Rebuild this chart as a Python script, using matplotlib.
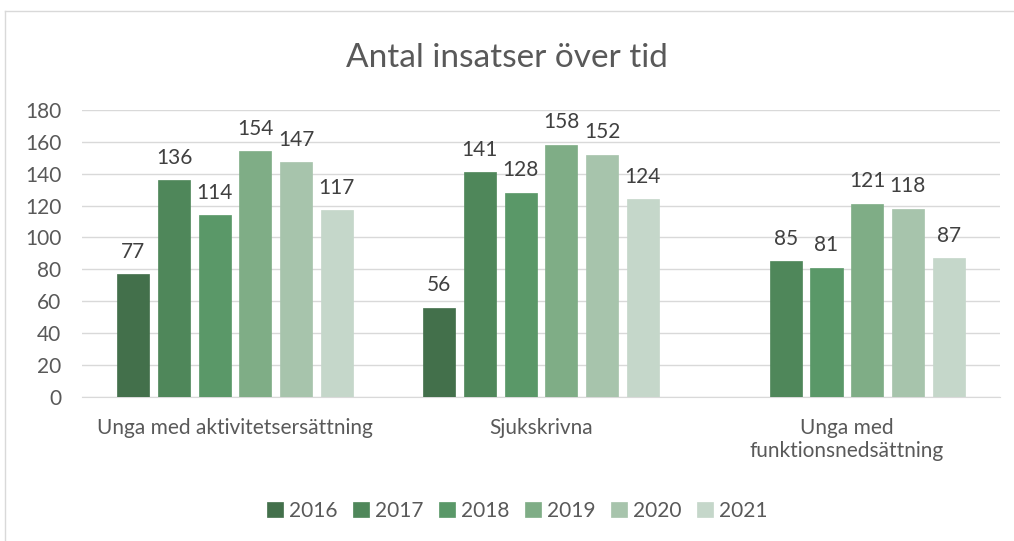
import numpy as np
import matplotlib.pyplot as plt
from matplotlib.lines import Line2D

# Data
categories = ["Unga med aktivitetsersättning", "Sjukskrivna", "Unga med\nfunktionsnedsättning"]
years = ["2016", "2017", "2018", "2019", "2020", "2021"]
values = {
    "2016": [77, 56, np.nan],
    "2017": [136, 141, 85],
    "2018": [114, 128, 81],
    "2019": [154, 158, 121],
    "2020": [147, 152, 118],
    "2021": [117, 124, 87],
}
colors = ["#43704B", "#4F875A", "#5A9868", "#7FAD86", "#A7C4AC", "#C5D7CA"]

plt.rcParams['font.family'] = ['Lato', 'DejaVu Sans']
text_color = "#595959"

fig = plt.figure(figsize=(10.14, 5.41), dpi=100)
ax = fig.add_axes([0.081, 0.266, 0.905, 0.531])

x = np.arange(len(categories))
step = 0.133
width = 0.105
for i, yr in enumerate(years):
    offs = (i - 2.5) * step
    vals = np.array(values[yr], dtype=float)
    ax.bar(x + offs, vals, width=width, color=colors[i], label=yr, zorder=3,
           edgecolor=colors[i], linewidth=0.5)
    for xi, v in zip(x + offs, vals):
        if not np.isnan(v):
            ax.annotate(f"{int(v)}", (xi, v), xytext=(0, 9), textcoords='offset points',
                        ha='center', va='bottom', fontsize=15, color="#404040")

ax.set_xlim(-0.5, 2.5)
ax.set_ylim(0, 180)
ax.set_yticks(range(0, 181, 20))
ax.yaxis.grid(True, color="#D9D9D9", linewidth=1, zorder=0)
for s in ["top", "right", "left"]:
    ax.spines[s].set_visible(False)
ax.spines["bottom"].set_color("#D9D9D9")
ax.tick_params(axis='both', length=0, labelsize=15, colors=text_color)
ax.tick_params(axis='y', pad=15)
ax.tick_params(axis='x', pad=15)
ax.set_xticks(x)
ax.set_xticklabels(categories, linespacing=1.2)

fig.suptitle("Antal insatser över tid", y=0.92, fontsize=24, color=text_color)

fig.legend(loc='center', bbox_to_anchor=(0.51, 0.056), ncol=6, frameon=False,
           fontsize=15, handlelength=0.75, handleheight=0.75, handletextpad=0.3,
           columnspacing=0.75, labelcolor=text_color)

# outer chart border
fig.add_artist(Line2D([0.005, 1.0], [0.98, 0.98], color="#D9D9D9", linewidth=1))
fig.add_artist(Line2D([0.005, 0.005], [0.0, 0.98], color="#D9D9D9", linewidth=1))

fig.savefig("out.png", dpi=100)
